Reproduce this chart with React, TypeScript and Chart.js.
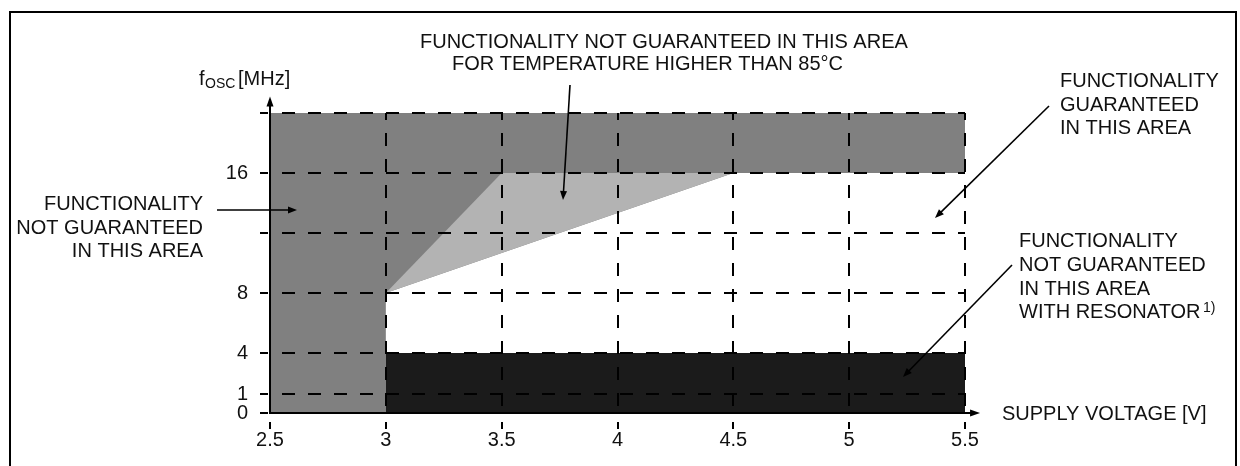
import React, { useEffect, useRef } from 'react';
import { Chart, registerables } from 'chart.js';

Chart.register(...registerables);

// Axis ticks
const xTickValues = [2.5, 3, 3.5, 4, 4.5, 5, 5.5];
const xTickLabels = ['2.5', '3', '3.5', '4', '4.5', '5', '5.5'];
const yTickValues = [0, 1.25, 4, 8, 12, 16, 20];
const yTickLabels = ['0', '1', '4', '8', '', '16', ''];
const xAxisEnd = 5.565;
const yAxisEnd = 21.1;

// Operating areas: supply voltage [V] vs f_OSC [MHz]
const notGuaranteedV = [2.5, 2.5, 5.5, 5.5, 4.5, 3, 3];
const notGuaranteedF = [0, 20, 20, 16, 16, 8, 0];
const highTempV = [3, 3.5, 4.5];
const highTempF = [8, 16, 16];
const resonatorV = [3, 3, 5.5, 5.5];
const resonatorF = [0, 4, 4, 0];

const toPoints = (xs: number[], ys: number[]) => xs.map((v, i) => ({ x: v, y: ys[i] }));

const FONT = '"Liberation Sans", Arial, Helvetica, sans-serif';

const annotate = {
  id: 'annotate',
  afterDraw(chart: any) {
    const { ctx, scales } = chart;
    const xs = scales.x;
    const ys = scales.y;
    ctx.save();
    ctx.strokeStyle = '#000';
    ctx.fillStyle = '#000';
    ctx.setLineDash([]);

    // frame
    ctx.lineWidth = 2;
    ctx.beginPath();
    ctx.moveTo(10, 480);
    ctx.lineTo(10, 12);
    ctx.lineTo(1236, 12);
    ctx.lineTo(1236, 480);
    ctx.stroke();

    const x0 = xs.getPixelForValue(2.5);
    const y0 = ys.getPixelForValue(0);
    const yTip = ys.getPixelForValue(yAxisEnd);
    const xTip = xs.getPixelForValue(xAxisEnd);

    // y axis with arrow
    ctx.beginPath();
    ctx.moveTo(x0, y0 + 1);
    ctx.lineTo(x0, yTip + 8);
    ctx.stroke();
    ctx.beginPath();
    ctx.moveTo(x0, yTip);
    ctx.lineTo(x0 - 3.5, yTip + 10);
    ctx.lineTo(x0 + 3.5, yTip + 10);
    ctx.closePath();
    ctx.fill();

    // x axis with arrow
    ctx.beginPath();
    ctx.moveTo(x0 - 1, y0);
    ctx.lineTo(xTip - 8, y0);
    ctx.stroke();
    ctx.beginPath();
    ctx.moveTo(xTip, y0);
    ctx.lineTo(xTip - 10, y0 - 3.5);
    ctx.lineTo(xTip - 10, y0 + 3.5);
    ctx.closePath();
    ctx.fill();

    // tick marks
    yTickValues.forEach((v) => {
      const py = Math.round(ys.getPixelForValue(v));
      ctx.beginPath();
      ctx.moveTo(x0 - 10, py);
      ctx.lineTo(x0 - 2, py);
      ctx.stroke();
    });
    xTickValues.forEach((v) => {
      const px = Math.round(xs.getPixelForValue(v));
      ctx.beginPath();
      ctx.moveTo(px, y0 + 9);
      ctx.lineTo(px, y0 + 16);
      ctx.stroke();
    });

    const text = (s: string, x: number, y: number, align: CanvasTextAlign = 'left', size = 20) => {
      ctx.font = `${size}px ${FONT}`;
      ctx.textAlign = align;
      ctx.textBaseline = 'alphabetic';
      ctx.fillStyle = '#111';
      ctx.fillText(s, x, y);
    };

    // axis titles
    text('f', 199, 85);
    text('OSC', 205, 88, 'left', 14);
    text('[MHz]', 238, 85);
    text('SUPPLY VOLTAGE [V]', 1002, 420);

    // area descriptions
    text('FUNCTIONALITY NOT GUARANTEED IN THIS AREA', 420, 48);
    text('FOR TEMPERATURE HIGHER THAN 85°C', 452, 70);

    text('FUNCTIONALITY', 203, 210, 'right');
    text('NOT GUARANTEED', 203, 234, 'right');
    text('IN THIS AREA', 203, 257, 'right');

    text('FUNCTIONALITY', 1060, 87);
    text('GUARANTEED', 1060, 111);
    text('IN THIS AREA', 1060, 134);

    text('FUNCTIONALITY', 1019, 247);
    text('NOT GUARANTEED', 1019, 271);
    text('IN THIS AREA', 1019, 295);
    text('WITH RESONATOR', 1019, 318);
    text('1)', 1203, 312, 'left', 14);

    // pointer arrows
    const arrow = (x1: number, y1: number, x2: number, y2: number) => {
      const a = Math.atan2(y2 - y1, x2 - x1);
      const len = 9;
      const hw = 3.5;
      ctx.strokeStyle = '#000';
      ctx.fillStyle = '#000';
      ctx.lineWidth = 1.6;
      ctx.beginPath();
      ctx.moveTo(x1, y1);
      ctx.lineTo(x2 - Math.cos(a) * (len - 1), y2 - Math.sin(a) * (len - 1));
      ctx.stroke();
      ctx.beginPath();
      ctx.moveTo(x2, y2);
      ctx.lineTo(x2 - Math.cos(a) * len - Math.sin(a) * hw, y2 - Math.sin(a) * len + Math.cos(a) * hw);
      ctx.lineTo(x2 - Math.cos(a) * len + Math.sin(a) * hw, y2 - Math.sin(a) * len - Math.cos(a) * hw);
      ctx.closePath();
      ctx.fill();
    };
    arrow(217, 210, 297, 210);
    arrow(570, 85, 563, 200);
    arrow(1049, 106, 935, 218);
    arrow(1012, 265, 903, 377);

    ctx.restore();
  },
};

export default function App() {
  const ref = useRef<HTMLCanvasElement | null>(null);

  useEffect(() => {
    if (!ref.current) return;
    const chart = new Chart(ref.current, {
      type: 'scatter',
      data: {
        datasets: [
          {
            label: 'Not guaranteed above 85°C',
            data: toPoints(highTempV, highTempF),
            showLine: true,
            fill: 'shape',
            backgroundColor: '#b3b3b3',
            borderColor: 'rgba(0,0,0,0)',
            borderWidth: 0,
            pointRadius: 0,
            tension: 0,
          },
          {
            label: 'Not guaranteed with resonator',
            data: toPoints(resonatorV, resonatorF),
            showLine: true,
            fill: 'shape',
            backgroundColor: '#1b1b1b',
            borderColor: 'rgba(0,0,0,0)',
            borderWidth: 0,
            pointRadius: 0,
            tension: 0,
          },
          {
            label: 'Not guaranteed',
            data: toPoints(notGuaranteedV, notGuaranteedF),
            showLine: true,
            fill: 'shape',
            backgroundColor: '#808080',
            borderColor: 'rgba(0,0,0,0)',
            borderWidth: 0,
            pointRadius: 0,
            tension: 0,
          },
        ],
      },
      options: {
        animation: false,
        responsive: false,
        maintainAspectRatio: false,
        events: [],
        layout: { padding: { left: 0, right: 275, top: 113, bottom: 0 } },
        plugins: {
          legend: { display: false },
          tooltip: { enabled: false },
        },
        scales: {
          x: {
            type: 'linear',
            min: 2.5,
            max: 5.5,
            afterBuildTicks: (s: any) => {
              s.ticks = xTickValues.map((v) => ({ value: v }));
            },
            afterFit: (s: any) => {
              s.height = 53;
            },
            ticks: {
              callback: (_v: any, i: number) => xTickLabels[i],
              font: { family: FONT, size: 20 },
              color: '#111',
              padding: 15,
              maxRotation: 0,
              autoSkip: false,
            },
            grid: { color: '#000', lineWidth: 2, drawTicks: false, z: 1 },
            border: { display: false, dash: [13, 13], dashOffset: 6 },
          },
          y: {
            type: 'linear',
            min: 0,
            max: 20,
            afterBuildTicks: (s: any) => {
              s.ticks = yTickValues.map((v) => ({ value: v }));
            },
            afterFit: (s: any) => {
              s.width = 270;
            },
            ticks: {
              callback: (_v: any, i: number) => yTickLabels[i],
              font: { family: FONT, size: 20 },
              color: '#111',
              padding: 22,
              autoSkip: false,
            },
            grid: { color: '#000', lineWidth: 2, drawTicks: false, z: 1 },
            border: { display: false, dash: [13, 13], dashOffset: 14 },
          },
        },
      },
      plugins: [annotate],
    } as any);
    return () => chart.destroy();
  }, []);

  return (
    <div style={{ position: 'absolute', left: 0, top: 0, width: 1240, height: 466, background: '#fff' }}>
      <canvas ref={ref} width={1240} height={466} style={{ width: 1240, height: 466, display: 'block' }} />
    </div>
  );
}
